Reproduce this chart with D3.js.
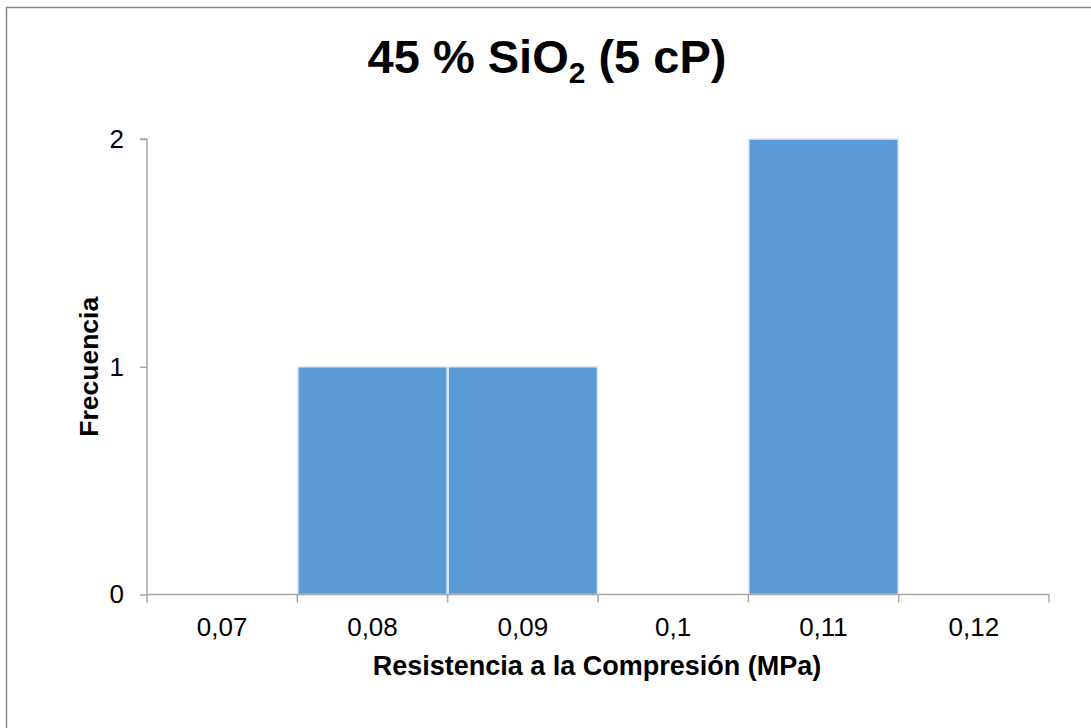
<!DOCTYPE html>
<html>
<head>
<meta charset="utf-8">
<script src="https://cdn.jsdelivr.net/npm/d3@7"></script>
<style>
  html, body { margin: 0; padding: 0; background: #fff; }
  svg { display: block; font-family: Arial, "Liberation Sans", sans-serif; }
</style>
</head>
<body>
<svg id="chart" width="1091" height="728"></svg>
<script>
const categories = ["0,07", "0,08", "0,09", "0,1", "0,11", "0,12"];
const frequencies = [0, 1, 1, 0, 2, 0];
const yTicks = [0, 1, 2];
const titleMain = "45 % SiO";
const titleSub = "2";
const titleEnd = " (5 cP)";
const xTitle = "Resistencia a la Compresión (MPa)";
const yTitle = "Frecuencia";

const svg = d3.select("#chart");
const W = 1091, H = 728;

// outer chart border (extends past right/bottom edge)
svg.append("rect")
  .attr("x", 6.5).attr("y", 7.5)
  .attr("width", W + 10).attr("height", H + 10)
  .attr("fill", "#fff").attr("stroke", "#868686").attr("stroke-width", 1.5);

const plot = { left: 147, right: 1049, top: 139, bottom: 594.5 };

const x = d3.scaleBand().domain(categories).range([plot.left, plot.right]).padding(0);
const y = d3.scaleLinear().domain([0, 2]).range([plot.bottom, plot.top]);

// bars
svg.append("g").selectAll("rect")
  .data(categories.map((c, i) => ({ c, v: frequencies[i] })).filter(d => d.v > 0))
  .join("rect")
  .attr("x", d => x(d.c) + 0.5)
  .attr("y", d => y(d.v))
  .attr("width", x.bandwidth() - 1)
  .attr("height", d => y(0) - y(d.v))
  .attr("fill", "#5B9BD5")
  .attr("stroke", "#DDEAF6")
  .attr("stroke-width", 1.5);

// y axis
const yAxis = d3.axisLeft(y).tickValues(yTicks).tickFormat(d3.format("d")).tickSize(7).tickPadding(16);
const gy = svg.append("g").attr("transform", `translate(${plot.left},0)`).call(yAxis);
gy.select(".domain").attr("stroke", "#A6A6A6").attr("stroke-width", 1.5)
  .attr("d", `M-7,${plot.top}H0V${plot.bottom}`);
gy.selectAll(".tick line").attr("stroke", "#A6A6A6").attr("stroke-width", 1.5);
gy.selectAll(".tick text").attr("font-size", 26).attr("fill", "#000")
  .attr("font-family", "Arial, 'Liberation Sans', sans-serif");

// x axis with boundary ticks
const gx = svg.append("g").attr("transform", `translate(0,${plot.bottom})`);
gx.append("line").attr("x1", plot.left).attr("x2", plot.right).attr("y1", 0).attr("y2", 0)
  .attr("stroke", "#A6A6A6").attr("stroke-width", 1.5);
const edges = categories.map(c => x(c)).concat([x(categories[categories.length - 1]) + x.bandwidth()]);
gx.selectAll("line.edge").data(edges).join("line").attr("class", "edge")
  .attr("x1", d => d).attr("x2", d => d).attr("y1", 0).attr("y2", 8)
  .attr("stroke", "#A6A6A6").attr("stroke-width", 1.5);
gx.selectAll("text").data(categories).join("text")
  .attr("x", d => x(d) + x.bandwidth() / 2)
  .attr("y", 41)
  .attr("text-anchor", "middle")
  .attr("font-size", 26).attr("fill", "#000")
  .text(d => d);

// title
const t = svg.append("text")
  .attr("x", 547).attr("y", 73)
  .attr("text-anchor", "middle")
  .attr("font-size", 47).attr("font-weight", "bold").attr("fill", "#000");
t.append("tspan").text(titleMain);
t.append("tspan").attr("font-size", 30).attr("dy", 10).text(titleSub);
t.append("tspan").attr("dy", -10).text(titleEnd);

// x axis title
svg.append("text")
  .attr("x", (plot.left + plot.right) / 2 - 1).attr("y", 675)
  .attr("text-anchor", "middle")
  .attr("font-size", 27).attr("font-weight", "bold").attr("fill", "#000")
  .text(xTitle);

// y axis title
svg.append("text")
  .attr("transform", `translate(98,${(plot.top + plot.bottom) / 2}) rotate(-90)`)
  .attr("text-anchor", "middle")
  .attr("font-size", 26.5).attr("font-weight", "bold").attr("fill", "#000")
  .text(yTitle);
</script>
</body>
</html>
